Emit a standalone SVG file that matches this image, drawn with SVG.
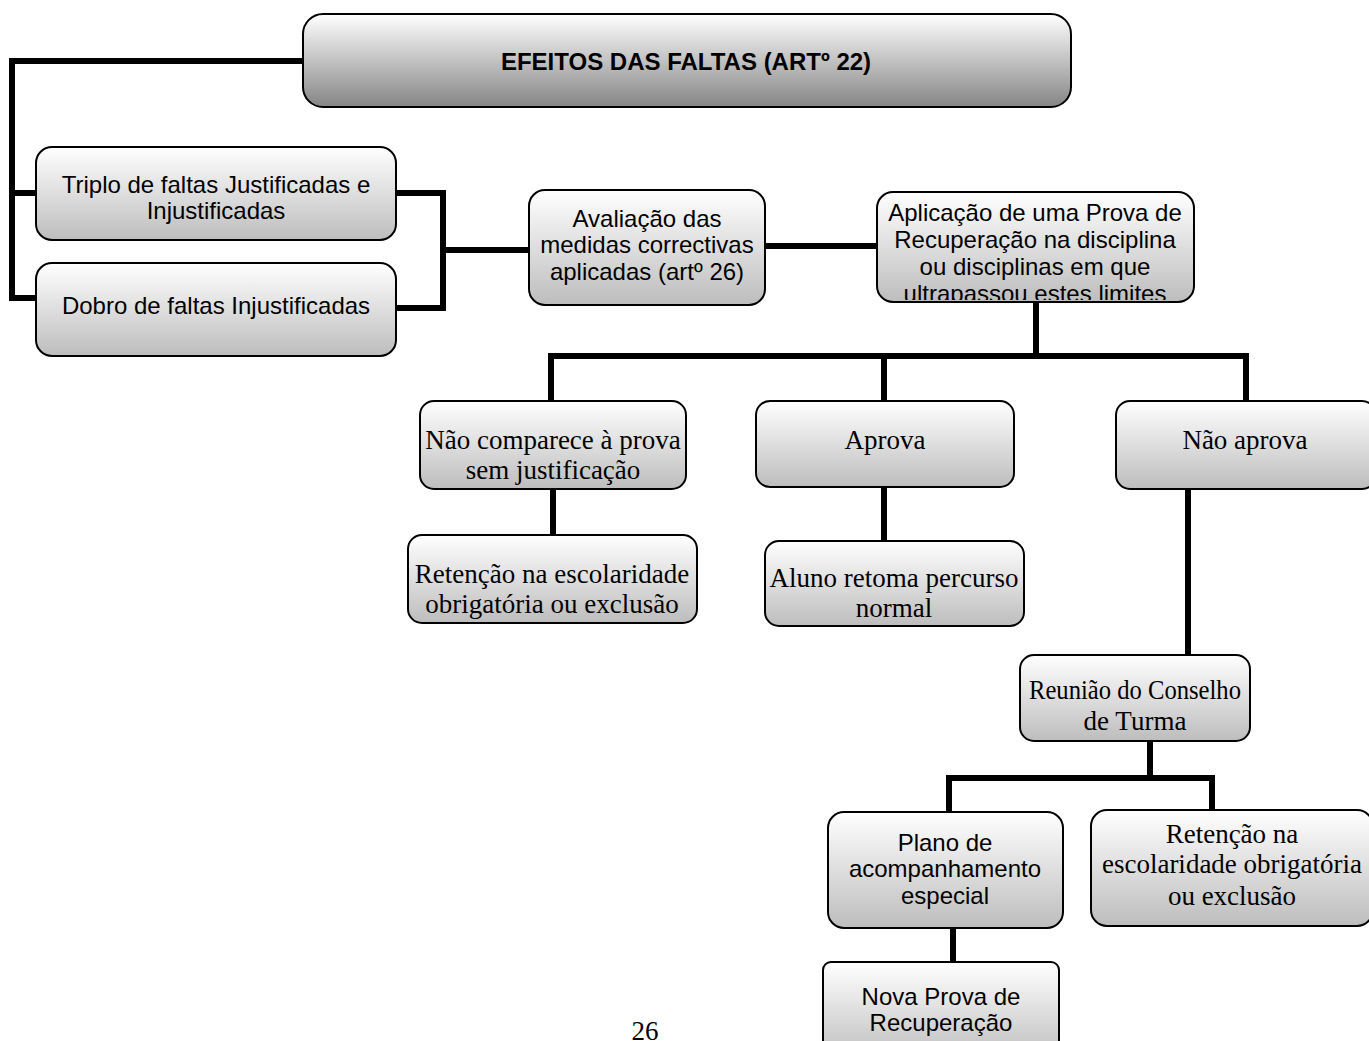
<svg xmlns="http://www.w3.org/2000/svg" width="1369" height="1041" viewBox="0 0 1369 1041">
<defs>
<linearGradient id="gTop" x1="0" y1="0" x2="0" y2="1"><stop offset="0" stop-color="#ffffff"/><stop offset="1" stop-color="#858585"/></linearGradient>
<linearGradient id="g" x1="0" y1="0" x2="0" y2="1"><stop offset="0" stop-color="#ffffff"/><stop offset="1" stop-color="#bdbdbd"/></linearGradient>
<clipPath id="clipApl"><rect x="877" y="192" width="317" height="108" rx="16"/></clipPath>
</defs>
<style>
.box{fill:url(#g);stroke:#000;stroke-width:2}
.top{fill:url(#gTop);stroke:#000;stroke-width:2}
.s{font-family:"Liberation Sans",Arial,sans-serif;font-size:24px;text-anchor:middle;fill:#000}
.r{font-family:"Liberation Serif","Times New Roman",serif;font-size:27px;text-anchor:middle;fill:#000}
.b{font-family:"Liberation Sans",Arial,sans-serif;font-size:24px;font-weight:bold;text-anchor:middle;fill:#000}
.c{fill:none;stroke:#000;stroke-width:6}
</style>
<g id="connectors">
<polyline class="c" points="303,61 12,61 12,298 36,298"/>
<line class="c" x1="12" y1="193" x2="36" y2="193"/>
<polyline class="c" points="396,193 443,193 443,308 396,308"/>
<line class="c" x1="443" y1="250" x2="529" y2="250"/>
<line class="c" x1="765" y1="246" x2="877" y2="246"/>
<line class="c" x1="1036" y1="302" x2="1036" y2="356"/>
<polyline class="c" points="551,401 551,356 1246,356 1246,401"/>
<line class="c" x1="884" y1="356" x2="884" y2="401"/>
<line class="c" x1="553" y1="489" x2="553" y2="535"/>
<line class="c" x1="884" y1="487" x2="884" y2="541"/>
<line class="c" x1="1188" y1="489" x2="1188" y2="655"/>
<line class="c" x1="1150" y1="741" x2="1150" y2="778"/>
<polyline class="c" points="949,812 949,778 1212,778 1212,810"/>
<line class="c" x1="953" y1="928" x2="953" y2="962"/>
</g>
<g id="n-title"><rect class="top" x="303" y="14" width="768" height="93" rx="20"/><text class="b" x="686" y="70">EFEITOS DAS FALTAS (ARTº 22)</text></g>
<g id="n-triplo"><rect class="box" x="36" y="147" width="360" height="93" rx="16"/><text class="s" x="216" y="193">Triplo de faltas Justificadas e</text><text class="s" x="216" y="219">Injustificadas</text></g>
<g id="n-dobro"><rect class="box" x="36" y="263" width="360" height="93" rx="16"/><text class="s" x="216" y="314">Dobro de faltas Injustificadas</text></g>
<g id="n-avaliacao"><rect class="box" x="529" y="190" width="236" height="115" rx="16"/><text class="s" x="647" y="227">Avaliação das</text><text class="s" x="647" y="253">medidas correctivas</text><text class="s" x="647" y="280">aplicadas (artº 26)</text></g>
<g id="n-aplicacao"><rect class="box" x="877" y="192" width="317" height="110" rx="16"/><g clip-path="url(#clipApl)"><text class="s" x="1035" y="221">Aplicação de uma Prova de</text><text class="s" x="1035" y="248">Recuperação na disciplina</text><text class="s" x="1035" y="275">ou disciplinas em que</text><text class="s" x="1035" y="302">ultrapassou estes limites</text></g></g>
<g id="n-naocomparece"><rect class="box" x="420" y="401" width="266" height="88" rx="14"/><text class="r" x="553" y="449">Não comparece à prova</text><text class="r" x="553" y="479">sem justificação</text></g>
<g id="n-aprova"><rect class="box" x="756" y="401" width="258" height="86" rx="14"/><text class="r" x="885" y="449">Aprova</text></g>
<g id="n-naoaprova"><rect class="box" x="1116" y="401" width="260" height="88" rx="14"/><text class="r" x="1245" y="449">Não aprova</text></g>
<g id="n-retencao1"><rect class="box" x="408" y="535" width="289" height="88" rx="14"/><text class="r" x="552" y="583">Retenção na escolaridade</text><text class="r" x="552" y="613">obrigatória ou exclusão</text></g>
<g id="n-aluno"><rect class="box" x="765" y="541" width="259" height="85" rx="14"/><text class="r" x="894" y="587">Aluno retoma percurso</text><text class="r" x="894" y="617">normal</text></g>
<g id="n-reuniao"><rect class="box" x="1020" y="655" width="230" height="86" rx="14"/><text class="r" x="1135" y="699" textLength="212" lengthAdjust="spacingAndGlyphs">Reunião do Conselho</text><text class="r" x="1135" y="730">de Turma</text></g>
<g id="n-plano"><rect class="box" x="828" y="812" width="235" height="116" rx="16"/><text class="s" x="945" y="851">Plano de</text><text class="s" x="945" y="877">acompanhamento</text><text class="s" x="945" y="904">especial</text></g>
<g id="n-retencao2"><rect class="box" x="1091" y="810" width="282" height="116" rx="16"/><text class="r" x="1232" y="843">Retenção na</text><text class="r" x="1232" y="873">escolaridade obrigatória</text><text class="r" x="1232" y="905">ou exclusão</text></g>
<g id="n-nova"><rect class="box" x="823" y="962" width="236" height="100" rx="8"/><text class="s" x="941" y="1005">Nova Prova de</text><text class="s" x="941" y="1031">Recuperação</text></g>
<text class="r" x="645" y="1040">26</text>
</svg>
